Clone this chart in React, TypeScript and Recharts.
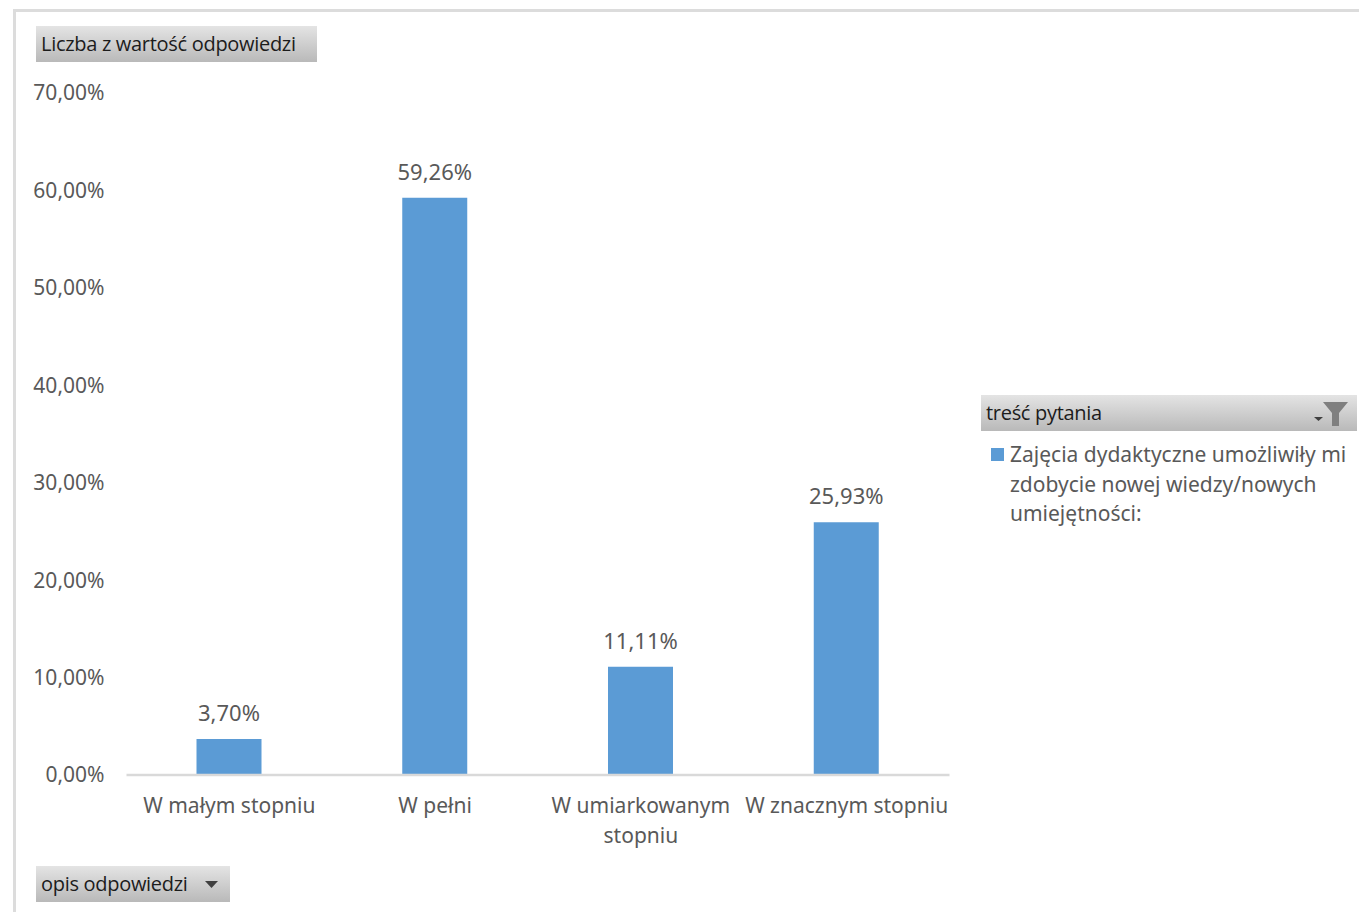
import React from "react";
import { BarChart, Bar, XAxis, YAxis, LabelList, Legend } from "recharts";

const categories = ["W małym stopniu", "W pełni", "W umiarkowanym stopniu", "W znacznym stopniu"];
const values = [3.7, 59.26, 11.11, 25.93];
const yTicks = [0, 10, 20, 30, 40, 50, 60, 70];
const seriesName = "Zajęcia dydaktyczne umożliwiły mi zdobycie nowej wiedzy/nowych umiejętności:";
const legendLines = ["Zajęcia dydaktyczne umożliwiły mi", "zdobycie nowej wiedzy/nowych", "umiejętności:"];
const categoryLines: Record<string, string[]> = {
  "W umiarkowanym stopniu": ["W umiarkowanym", "stopniu"],
};
const yAxisTitle = "Liczba z wartość odpowiedzi";
const xAxisTitle = "opis odpowiedzi";
const legendTitle = "treść pytania";

const data = categories.map((name, i) => ({ name, value: values[i] }));
const pct = (v: number) => v.toFixed(2).replace(".", ",") + "%";

const FONT = "'Noto Sans', sans-serif";
const TEXT = "#595959";
const BLUE = "#5b9bd5";
const GRID = "#d9d9d9";

const buttonStyle: React.CSSProperties = {
  position: "absolute",
  background: "linear-gradient(#e4e4e4, #b9b9b9)",
  color: "#1c1c1c",
  fontFamily: "'Open Sans', sans-serif",
  fontSize: 20,
  letterSpacing: -0.3,
  display: "flex",
  alignItems: "center",
  boxSizing: "border-box",
  paddingLeft: 5,
  paddingBottom: 2,
  whiteSpace: "nowrap",
};

const CategoryTick = (props: any) => {
  const { x, y, payload } = props;
  const lines = categoryLines[payload.value] ?? [payload.value];
  return (
    <g>
      {lines.map((l: string, i: number) => (
        <text key={l} x={x} y={y + 30 + i * 29.5} textAnchor="middle" fill={TEXT} fontFamily={FONT} fontSize={21}>
          {l}
        </text>
      ))}
    </g>
  );
};

const LegendBody = () => (
  <div style={{ position: "relative", width: 360, fontFamily: FONT, fontSize: 21, color: TEXT, lineHeight: "29.5px" }}>
    <div style={{ position: "absolute", left: 0, top: 8, width: 13, height: 13, background: BLUE }} />
    <div style={{ marginLeft: 19, whiteSpace: "nowrap" }}>
      {legendLines.map((l) => (
        <div key={l}>{l}</div>
      ))}
    </div>
  </div>
);

export default function App() {
  return (
    <div style={{ position: "absolute", left: 0, top: 0, width: 1359, height: 912, background: "#fff", overflow: "hidden" }}>
      <div style={{ position: "absolute", left: 13, top: 9, width: 1346, height: 3, background: "#dcdcdc" }} />
      <div style={{ position: "absolute", left: 13, top: 9, width: 3, height: 903, background: "#dcdcdc" }} />
      <BarChart
        width={1359}
        height={912}
        data={data}
        margin={{ top: 93, right: 49.5, bottom: 107, left: 0.5 }}
        barSize={65}
        style={{ position: "absolute", left: 0, top: 0 }}
      >
        <XAxis
          dataKey="name"
          height={30}
          axisLine={{ stroke: GRID, strokeWidth: 2.5 }}
          tickLine={false}
          interval={0}
          tick={<CategoryTick />}
        />
        <YAxis
          width={126}
          domain={[0, 70]}
          ticks={yTicks}
          axisLine={false}
          tickLine={false}
          tickMargin={16}
          tickFormatter={pct}
          tick={{ fill: TEXT, fontFamily: FONT, fontSize: 21 }}
        />
        <Legend
          layout="vertical"
          align="right"
          verticalAlign="top"
          content={<LegendBody />}
          wrapperStyle={{ position: "absolute", left: 991, top: 440, width: 360 }}
        />
        <Bar dataKey="value" name={seriesName} fill={BLUE} isAnimationActive={false}>
          <LabelList
            dataKey="value"
            position="top"
            offset={18}
            formatter={pct}
            fill={TEXT}
            fontFamily={FONT}
            fontSize={22}
          />
        </Bar>
      </BarChart>
      <div style={{ ...buttonStyle, left: 36, top: 26, width: 281, height: 36 }}>{yAxisTitle}</div>
      <div style={{ ...buttonStyle, left: 36, top: 866, width: 194, height: 36 }}>
        {xAxisTitle}
        <svg width="14" height="8" style={{ position: "absolute", left: 169, top: 15 }}>
          <polygon points="0,0 13,0 6.5,7" fill="#404040" />
        </svg>
      </div>
      <div style={{ ...buttonStyle, left: 981, top: 395, width: 376, height: 36 }}>
        {legendTitle}
        <svg width="40" height="30" style={{ position: "absolute", left: 332, top: 4 }}>
          <polygon points="1,18 10,18 5.5,22" fill="#404040" />
          <polygon points="10,3 35,3 26,14 26,27 19,27 19,14" fill="#7f7f7f" />
        </svg>
      </div>
    </div>
  );
}
